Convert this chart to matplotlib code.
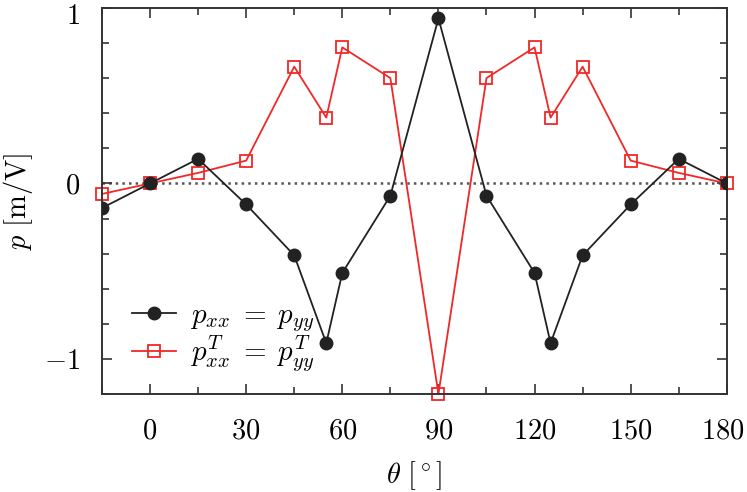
import matplotlib
matplotlib.use("Agg")
import matplotlib.pyplot as plt
import matplotlib.transforms as mtransforms
from matplotlib.ticker import MultipleLocator

# angle theta in degrees
theta = [-15, 0, 15, 30, 45, 55, 60, 75, 90, 105, 120, 125, 135, 150, 165, 180]
# p_xx = p_yy
p_xx = [-0.14, 0.0, 0.14, -0.12, -0.41, -0.91, -0.51, -0.07, 0.94,
        -0.07, -0.51, -0.91, -0.41, -0.12, 0.14, 0.0]
# p_xx^T = p_yy^T
p_xx_T = [-0.06, 0.0, 0.06, 0.13, 0.665, 0.375, 0.775, 0.60, -1.2,
          0.60, 0.775, 0.375, 0.665, 0.13, 0.06, 0.0]

xticks = [0, 30, 60, 90, 120, 150, 180]
yticks = [-1, 0, 1]

plt.rcParams['font.family'] = 'cmr10'
plt.rcParams['mathtext.fontset'] = 'cm'
plt.rcParams['axes.formatter.use_mathtext'] = True
plt.rcParams['font.size'] = 20.5

fig = plt.figure(figsize=(7.47, 4.92), dpi=100)
ax = fig.add_axes([0.1365, 0.199, 0.8365, 0.785])

ax.axhline(0, color='#555555', ls=':', lw=1.8, zorder=1)
ax.plot(theta, p_xx, color='#222222', lw=1.3, marker='o', ms=9,
        label=r'$p_{xx}\;=\;p_{yy}$', zorder=3)
ax.plot(theta, p_xx_T, color='#f02828', lw=1.3, marker='s', ms=8.5,
        mfc='none', mec='#f02828', mew=1.3,
        label=r'$p^T_{xx}\;=\;p^T_{yy}$', zorder=2, clip_on=False)

ax.set_xlim(-15, 180)
ax.set_ylim(-1.2, 1)
ax.set_xticks(xticks)
ax.set_yticks(yticks)
ax.xaxis.set_minor_locator(MultipleLocator(15))
ax.yaxis.set_minor_locator(MultipleLocator(0.2))
ax.tick_params(which='both', direction='in', top=True, right=True,
               color='#333333', width=1.2)
ax.tick_params(axis='x', pad=17)
ax.tick_params(axis='y', pad=16)
ax.tick_params(which='major', length=7)
ax.tick_params(which='minor', length=5)
for s in ax.spines.values():
    s.set_color('#333333')
    s.set_linewidth(1.4)

# nudge edge labels so they stay inside the figure
top_lbl = ax.yaxis.get_majorticklabels()[-1]
top_lbl.set_transform(top_lbl.get_transform() +
                      mtransforms.ScaledTranslation(0, -4 / 72, fig.dpi_scale_trans))
right_lbl = ax.xaxis.get_majorticklabels()[-1]
right_lbl.set_transform(right_lbl.get_transform() +
                        mtransforms.ScaledTranslation(-3 / 72, 0, fig.dpi_scale_trans))

ax.set_xlabel(r'$\theta\ [^\circ]$', labelpad=11)
ax.set_ylabel(r'$p\ [\mathrm{m/V}]$', labelpad=6)

ax.legend(loc='upper left', bbox_to_anchor=(0.029, 0.267), frameon=False,
          fontsize=21, handlelength=1.5, handletextpad=0.5,
          labelspacing=0.0, borderaxespad=0)

fig.savefig('out.png', dpi=100)
